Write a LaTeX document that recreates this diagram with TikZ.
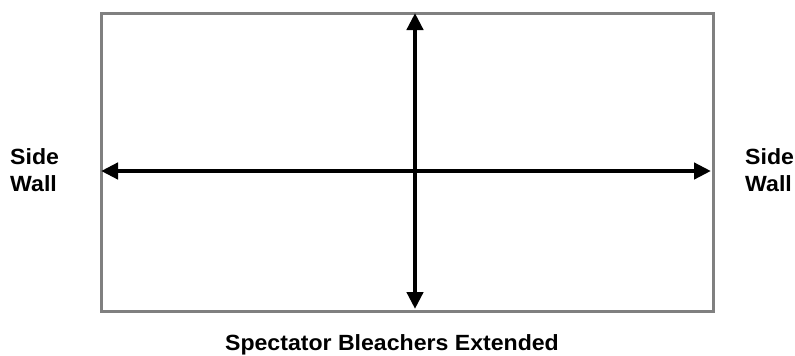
\documentclass[tikz,border=0pt]{standalone}
\usepackage{fontspec}
\setmainfont{Liberation Sans}
\usetikzlibrary{arrows.meta}
\begin{document}
\begin{tikzpicture}[x=1pt,y=-1pt,
  wall/.style={draw=black!50, line width=2.5pt},
  dimarrow/.style={line width=4.5pt, {Triangle[length=17pt,width=16pt]}-{Triangle[length=17pt,width=16pt]}},
  lbl/.style={font=\fontsize{22}{27}\selectfont\bfseries, inner sep=0pt, align=left, xscale=1.05}]
\useasboundingbox (0,0) rectangle (795,356);
\node[wall, minimum width=612pt, minimum height=298pt, inner sep=0pt, anchor=north west] (court) at (100,12) {};
\coordinate (top) at (415,13);
\coordinate (bot) at (415,309);
\coordinate (lft) at (101,171);
\coordinate (rgt) at (711,171);
\draw[dimarrow] (top) -- (bot);
\draw[dimarrow] (lft) -- (rgt);
\node[lbl, anchor=west] (lw) at (10,170) {Side\\Wall};
\node[lbl, anchor=west] (rw) at (745,170) {Side\\Wall};
\node[lbl, anchor=base] (bl) at (392,350.5) {Spectator Bleachers Extended};
\end{tikzpicture}
\end{document}
